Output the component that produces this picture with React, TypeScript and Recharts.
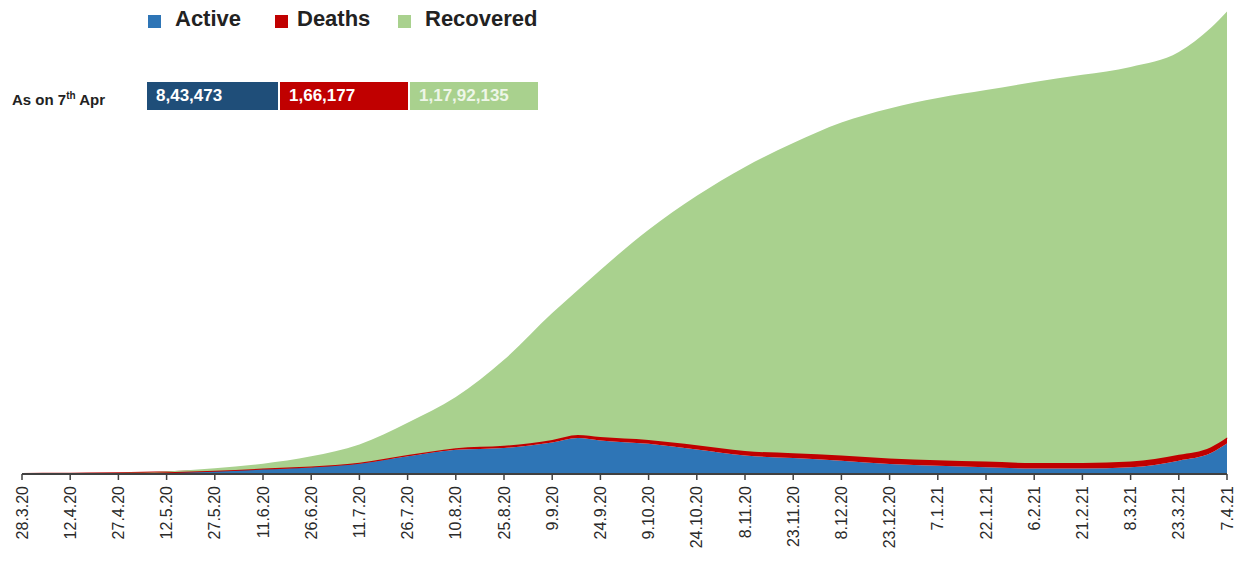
import React from 'react';
import { AreaChart, Area, XAxis, YAxis } from 'recharts';

// days since 28.3.20 (a few extra points between ticks to keep the shape)
const days = [0, 15, 30, 45, 60, 75, 90, 105, 120, 135, 150, 165, 173, 180, 195, 210, 225, 240, 255, 270, 285, 300, 315, 330, 345, 360, 370, 375];
const active = [900, 8000, 21000, 47000, 86000, 141000, 190000, 288000, 490000, 670000, 720000, 870000, 995000, 930000, 835000, 680000, 510000, 440000, 370000, 280000, 230000, 190000, 150000, 150000, 185000, 370000, 580000, 843473];
const deaths = [20, 300, 900, 2400, 4500, 8500, 16000, 22000, 33000, 45000, 59000, 74000, 84000, 92000, 106000, 117000, 126000, 134000, 141000, 147000, 150500, 153000, 155000, 156500, 158000, 160000, 163500, 166177];
const recovered = [100, 900, 7000, 21600, 67500, 137500, 285000, 510000, 897000, 1415000, 2381000, 3516000, 4016000, 4628000, 5819000, 6903000, 7864000, 8586000, 9219000, 9693000, 10029500, 10287000, 10545000, 10743500, 10927000, 11150000, 11606500, 11792135];

const tickDays = [0, 15, 30, 45, 60, 75, 90, 105, 120, 135, 150, 165, 180, 195, 210, 225, 240, 255, 270, 285, 300, 315, 330, 345, 360, 375];
const tickLabels = ['28.3.20', '12.4.20', '27.4.20', '12.5.20', '27.5.20', '11.6.20', '26.6.20', '11.7.20', '26.7.20', '10.8.20', '25.8.20', '9.9.20', '24.9.20', '9.10.20', '24.10.20', '8.11.20', '23.11.20', '8.12.20', '23.12.20', '7.1.21', '22.1.21', '6.2.21', '21.2.21', '8.3.21', '23.3.21', '7.4.21'];

const summaryValues = ['8,43,473', '1,66,177', '1,17,92,135'];

const BLUE = '#2E75B6';
const RED = '#C00000';
const GREEN = '#A9D18E';

const data = days.map((d, i) => ({
  day: d,
  active: active[i],
  deaths: deaths[i],
  recovered: recovered[i],
}));

const DateTick = ({ x, y, payload }: any) => {
  const idx = tickDays.indexOf(payload.value);
  return (
    <g transform={`translate(${x},${y})`}>
      <text
        transform="rotate(-90)"
        textAnchor="end"
        x={-4}
        dy={5.5}
        fontSize={16}
        fontFamily="Liberation Sans, Arial, sans-serif"
        fill="#2a2a2a"
      >
        {tickLabels[idx]}
      </text>
    </g>
  );
};

const legendItems = [
  { name: 'Active', color: BLUE, sq: 148, tx: 175 },
  { name: 'Deaths', color: RED, sq: 275, tx: 297 },
  { name: 'Recovered', color: GREEN, sq: 398, tx: 425 },
];

const barSegs = [
  { left: 147, width: 131, color: '#1F4E79', text: '#ffffff' },
  { left: 280, width: 128, color: RED, text: '#ffffff' },
  { left: 410, width: 128, color: GREEN, text: '#EEF6E8' },
];

export default function App() {
  const font = 'Liberation Sans, Arial, sans-serif';
  return (
    <div style={{ position: 'absolute', left: 0, top: 0, width: 1236, height: 562, background: '#fff', fontFamily: font }}>
      <AreaChart
        width={1236}
        height={562}
        data={data}
        margin={{ top: 8, right: 9, left: 22, bottom: 0 }}
      >
        <XAxis
          dataKey="day"
          type="number"
          domain={[0, 375]}
          ticks={tickDays}
          interval={0}
          height={88}
          tick={<DateTick />}
          tickSize={6}
          axisLine={{ stroke: '#404040', strokeWidth: 2 }}
          tickLine={{ stroke: '#404040', strokeWidth: 1.5 }}
        />
        <YAxis hide domain={[0, 12900000]} />
        <Area type="monotone" dataKey="active" stackId="1" fill={BLUE} fillOpacity={1} stroke="none" isAnimationActive={false} />
        <Area type="monotone" dataKey="deaths" stackId="1" fill={RED} fillOpacity={1} stroke={RED} strokeWidth={2} isAnimationActive={false} />
        <Area type="monotone" dataKey="recovered" stackId="1" fill={GREEN} fillOpacity={1} stroke="none" isAnimationActive={false} />
      </AreaChart>

      {legendItems.map((it) => (
        <React.Fragment key={it.name}>
          <div style={{ position: 'absolute', left: it.sq, top: 15, width: 13, height: 13, background: it.color }} />
          <div style={{ position: 'absolute', left: it.tx, top: 6, fontSize: 22, fontWeight: 'bold', color: '#222', lineHeight: '26px' }}>
            {it.name}
          </div>
        </React.Fragment>
      ))}

      <div style={{ position: 'absolute', left: 12, top: 86, fontSize: 15, fontWeight: 'bold', color: '#222', lineHeight: '20px' }}>
        As on 7<sup style={{ fontSize: 10 }}>th</sup> Apr
      </div>
      {barSegs.map((s, i) => (
        <div
          key={i}
          style={{
            position: 'absolute',
            left: s.left,
            top: 82,
            width: s.width,
            height: 28,
            background: s.color,
            color: s.text,
            fontSize: 17,
            fontWeight: 'bold',
            lineHeight: '28px',
            paddingLeft: 9,
            boxSizing: 'border-box',
          }}
        >
          {summaryValues[i]}
        </div>
      ))}
    </div>
  );
}
